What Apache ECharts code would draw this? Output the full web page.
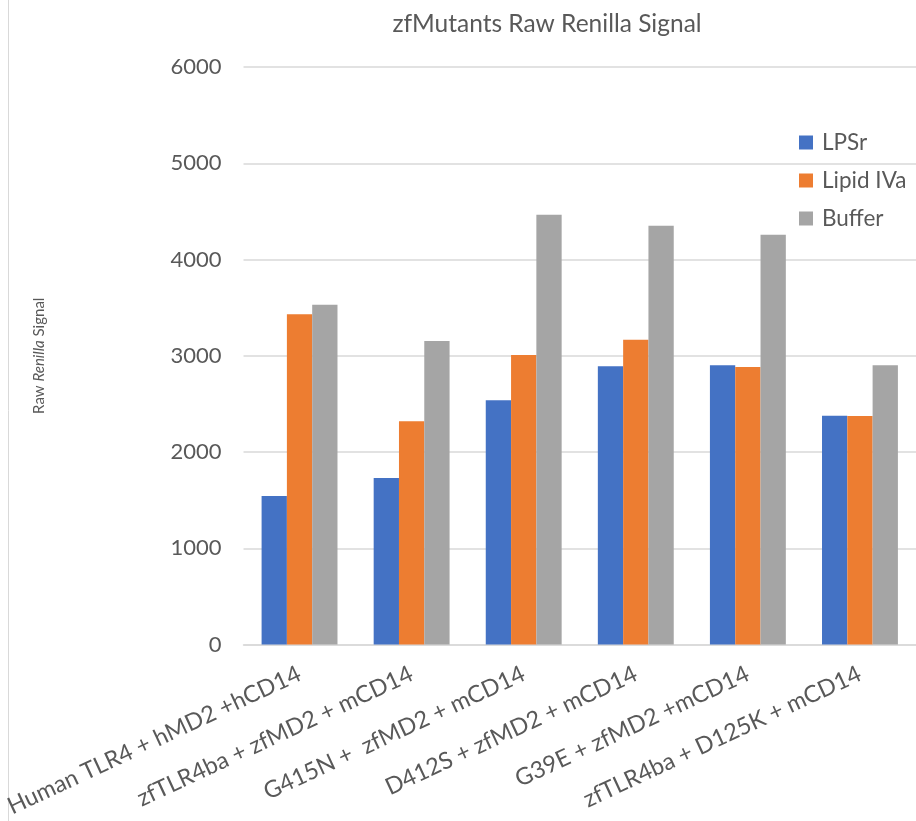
<!DOCTYPE html>
<html>
<head>
<meta charset="utf-8">
<script src="https://cdn.jsdelivr.net/npm/echarts@6/dist/echarts.min.js"></script>
<style>
  html, body { margin: 0; padding: 0; background: #ffffff; }
  #chart { width: 916px; height: 821px; }
</style>
</head>
<body>
<div id="chart"></div>
<script>
// Construct groups on the x axis
const categories = [
  'Human TLR4 + hMD2 +hCD14',
  'zfTLR4ba + zfMD2 + mCD14',
  'G415N +  zfMD2 + mCD14',
  'D412S + zfMD2 + mCD14',
  'G39E + zfMD2 +mCD14',
  'zfTLR4ba + D125K + mCD14'
];

// Raw Renilla luciferase signal per treatment
const lpsr     = [1543, 1730, 2537, 2890, 2901, 2377];
const lipidIVa = [3431, 2319, 3008, 3167, 2883, 2375];
const buffer   = [3530, 3153, 4465, 4351, 4258, 2901];

const seriesNames = ['LPSr', 'Lipid IVa', 'Buffer'];
const yTicks = { min: 0, max: 6000, step: 1000 };

const textColor = '#595959';
const fontFamily = 'Lato, "Open Sans", sans-serif';

const chart = echarts.init(document.getElementById('chart'));

function barSeries(name, values, color) {
  return {
    name: name,
    type: 'bar',
    data: values,
    barWidth: 25.3,
    barGap: '0%',
    itemStyle: { color: color },
    emphasis: { disabled: true }
  };
}

chart.setOption({
  animation: false,
  backgroundColor: '#ffffff',
  textStyle: { fontFamily: fontFamily },
  title: {
    text: 'zfMutants Raw Renilla Signal',
    left: 547,
    textAlign: 'center',
    top: 12,
    padding: 0,
    textStyle: { color: textColor, fontSize: 24.5, fontWeight: 'normal', fontFamily: fontFamily }
  },
  legend: {
    orient: 'vertical',
    left: 799,
    top: 131,
    padding: 0,
    itemWidth: 14,
    itemHeight: 14,
    itemGap: 15,
    icon: 'rect',
    data: seriesNames,
    textStyle: { color: textColor, fontSize: 22.5, lineHeight: 23, fontFamily: fontFamily, padding: [0, 0, 0, 4] }
  },
  grid: { left: 243.5, right: -11.5, top: 67, bottom: 176.5, containLabel: false },
  xAxis: {
    type: 'category',
    data: categories,
    axisLine: { show: true, lineStyle: { color: '#d9d9d9', width: 1.5 } },
    axisTick: { show: false },
    axisLabel: {
      interval: 0,
      rotate: 25,
      margin: 28,
      color: textColor,
      fontSize: 23.5,
      fontFamily: fontFamily
    }
  },
  yAxis: {
    type: 'value',
    min: yTicks.min,
    max: yTicks.max,
    interval: yTicks.step,
    name: '{n|Raw }{i|Renilla}{n| Signal}',
    nameLocation: 'middle',
    nameRotate: 90,
    nameGap: 197,
    nameTextStyle: {
      rich: {
        n: { fontSize: 15, color: textColor, fontFamily: fontFamily },
        i: { fontSize: 15, color: textColor, fontStyle: 'italic', fontFamily: fontFamily }
      }
    },
    axisLine: { show: false },
    axisTick: { show: false },
    axisLabel: {
      color: textColor,
      fontSize: 22,
      margin: 22,
      fontFamily: fontFamily,
      formatter: function (v) { return String(v); }
    },
    splitLine: { lineStyle: { color: '#d9d9d9', width: 1.5 } }
  },
  graphic: [
    {
      type: 'line',
      shape: { x1: 8.5, y1: 0, x2: 8.5, y2: 821 },
      style: { stroke: '#d9d9d9', lineWidth: 1 },
      silent: true
    }
  ],
  series: [
    barSeries(seriesNames[0], lpsr, '#4472C4'),
    barSeries(seriesNames[1], lipidIVa, '#ED7D31'),
    barSeries(seriesNames[2], buffer, '#A5A5A5')
  ]
});
</script>
</body>
</html>
